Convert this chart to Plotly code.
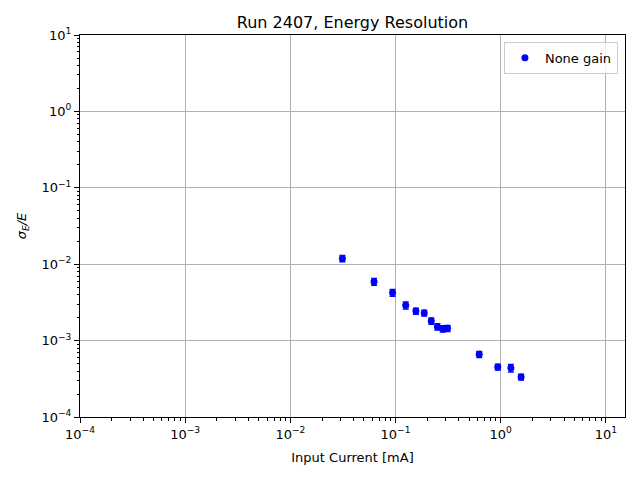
import plotly.graph_objects as go
import numpy as np

current_mA = [0.03125, 0.0625, 0.09375, 0.125, 0.15625, 0.1875, 0.21875, 0.25,
              0.28125, 0.3125, 0.625, 0.9375, 1.25, 1.5625]
resolution = [0.0119, 0.0059, 0.00424, 0.0029, 0.00244, 0.0023, 0.00181, 0.00152,
              0.00143, 0.00145, 0.000662, 0.000451, 0.000438, 0.000334]
resolution_err = [0.0011, 0.0006, 0.00042, 0.0003, 0.00022, 0.0002, 0.00017, 0.00014,
                  0.00013, 0.00013, 0.00006, 0.00004, 0.00005, 0.00003]

tick_vals = [1e-4, 1e-3, 1e-2, 1e-1, 1e0, 1e1]
tick_text = ["10<sup>\u22124</sup>", "10<sup>\u22123</sup>", "10<sup>\u22122</sup>",
             "10<sup>\u22121</sup>", "10<sup>0</sup>", "10<sup>1</sup>"]

fig = go.Figure()
fig.add_trace(go.Scatter(
    x=current_mA, y=resolution, mode="markers", name="None gain",
    marker=dict(color="#0000ff", size=7, symbol="circle"),
    error_y=dict(type="data", array=resolution_err, visible=True,
                 color="#0000ff", thickness=1.5, width=3),
))

axis_common = dict(
    type="log", showline=True, linecolor="black", linewidth=1, mirror=True,
    ticks="outside", ticklen=5, tickcolor="black",
    showgrid=True, gridcolor="#b0b0b0", gridwidth=0.8,
    tickvals=tick_vals, ticktext=tick_text, zeroline=False,
    minor=dict(ticks="outside", ticklen=2.5, tickcolor="black", dtick="D1", showgrid=False),
    tickfont=dict(size=13, color="black"),
)

fig.update_xaxes(range=[-4, np.log10(15.2)],
                 title=dict(text="Input Current [mA]", font=dict(size=13, color="black"), standoff=12),
                 **axis_common)
fig.update_yaxes(range=[-4, 1],
                 title=dict(text="<i>\u03c3<sub>E</sub>/E</i>", font=dict(size=13, color="black"), standoff=11),
                 **axis_common)

W, H = 632, 472
fig.update_layout(
    width=W, height=H,
    margin=dict(l=72, r=15, t=27, b=63),
    paper_bgcolor="white", plot_bgcolor="white",
    font=dict(family="DejaVu Sans", color="black"),
    title=dict(text="Run 2407, Energy Resolution", x=(72 + 617) / 2 / W, xanchor="center",
               y=1 - 14 / H, yanchor="middle", font=dict(size=16, color="black")),
    showlegend=True,
    legend=dict(x=0.987, y=0.982, xanchor="right", yanchor="top",
                bgcolor="rgba(255,255,255,0.8)", bordercolor="#cccccc", borderwidth=1,
                font=dict(size=13, color="black")),
)

fig.write_html("out.html")
